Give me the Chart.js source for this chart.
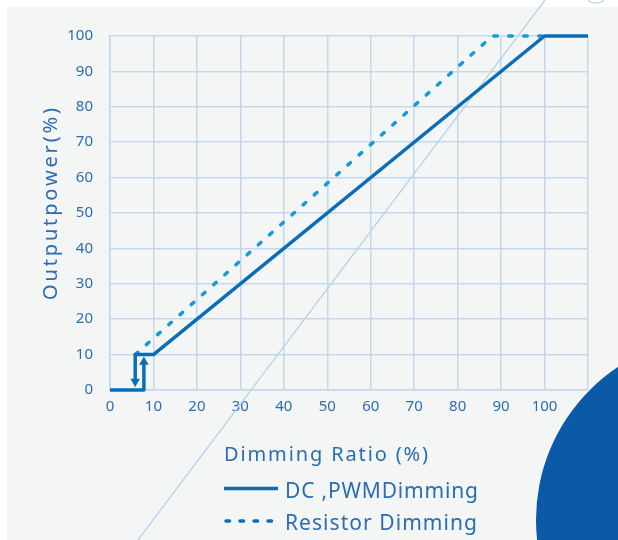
<!DOCTYPE html>
<html>
<head>
<meta charset="utf-8">
<script src="https://cdn.jsdelivr.net/npm/chart.js@4.4.0/dist/chart.umd.min.js"></script>
<style>
html, body { margin: 0; padding: 0; background: #fff; }
#wrap { width: 618px; height: 540px; position: relative; }
</style>
</head>
<body>
<div id="wrap"><canvas id="graf"></canvas></div>
<script>
// dimming ratio (%) on x, output power (%) on y
var xMax = 110;
var yMax = 100;
var tickStep = 10;
var xLabelMax = 100;

var dcPwmDimming = [[0, 0], [7.8, 0], [7.8, 7.6], null, [5.8, 2.6], [5.8, 10], [10, 10], [100, 100], [110, 100]];
var resistorDimming = [[5.8, 10], [88, 100], [100, 100]];
var arrowUp = [[7.8, 7.9]];
var arrowDown = [[5.8, 2.4]];

var seriesNames = ['DC ,PWMDimming', 'Resistor Dimming'];
var xTitle = 'Dimming Ratio (%)';
var yTitle = 'Outputpower(%)';

var textColor = '#2b6cb4';
var solidColor = '#0b6db8';
var dashColor = '#1799d8';
var gridColor = '#c3d8eb';

function toPoints(list) {
    return list.map(function (p) {
        return p ? { x: p[0], y: p[1] } : { x: 6.8, y: null };
    });
}

// spread the letters so a text fills the given width
function spacedText(ctx, text, x, y, width) {
    ctx.letterSpacing = '0px';
    var w = ctx.measureText(text).width;
    var gap = (width - w) / (text.length - 1);
    ctx.letterSpacing = gap.toFixed(2) + 'px';
    ctx.fillText(text, x, y);
    ctx.letterSpacing = '0px';
}

var extras = {
    id: 'extras',
    beforeDraw: function (chart) {
        var ctx = chart.ctx;
        ctx.save();
        ctx.fillStyle = '#ffffff';
        ctx.fillRect(0, 0, chart.width, chart.height);
        ctx.fillStyle = '#f4f6f6';
        ctx.fillRect(7, 7, chart.width - 7, chart.height - 7);
        // big blue disc, bottom right
        ctx.fillStyle = '#0a5aa8';
        ctx.beginPath();
        ctx.arc(720, 520, 184, 0, Math.PI * 2);
        ctx.fill();
        // small curl at the top right
        ctx.strokeStyle = '#b9d3ea';
        ctx.lineWidth = 1.2;
        ctx.beginPath();
        ctx.ellipse(596, -3, 9, 6, 0, 0.2, Math.PI * 0.9);
        ctx.stroke();
        ctx.restore();
    },
    beforeDatasetsDraw: function (chart) {
        var ctx = chart.ctx;
        ctx.save();
        ctx.strokeStyle = '#b9d3ea';
        ctx.lineWidth = 1.3;
        ctx.beginPath();
        ctx.moveTo(138, 540);
        ctx.lineTo(545, 0);
        ctx.stroke();
        ctx.restore();
    },
    afterDraw: function (chart) {
        var ctx = chart.ctx;
        ctx.save();
        ctx.fillStyle = textColor;
        ctx.textBaseline = 'alphabetic';
        ctx.textAlign = 'left';

        // y title, reads bottom to top
        ctx.save();
        ctx.translate(57, 300);
        ctx.rotate(-Math.PI / 2);
        ctx.font = '20px "Noto Sans"';
        spacedText(ctx, yTitle, 0, 0, 192);
        ctx.restore();

        // x title
        ctx.font = '20px "Noto Sans"';
        spacedText(ctx, xTitle, 224, 461, 204);

        // legend
        var lineY = [488.5, 521];
        var textY = [497.5, 529.5];
        var widths = [193, 192];
        chart.data.datasets.forEach(function (ds, i) {
            if (!ds.label) return;
            ctx.strokeStyle = solidColor;
            ctx.lineWidth = 3.5;
            if (ds.borderDash) {
                ctx.setLineDash([3.5, 10.5]);
                ctx.lineCap = 'round';
            } else {
                ctx.setLineDash([]);
                ctx.lineCap = 'butt';
            }
            ctx.beginPath();
            ctx.moveTo(ds.borderDash ? 226 : 224, lineY[i]);
            ctx.lineTo(ds.borderDash ? 276 : 278, lineY[i]);
            ctx.stroke();
            ctx.setLineDash([]);
            ctx.font = '21px "Noto Sans"';
            spacedText(ctx, ds.label, 285, textY[i], widths[i]);
        });
        ctx.restore();
    }
};

var graf = new Chart(document.getElementById('graf'), {
    type: 'scatter',
    data: {
        datasets: [{
            label: seriesNames[0],
            data: toPoints(dcPwmDimming),
            showLine: true,
            spanGaps: false,
            borderColor: solidColor,
            borderWidth: 3.5,
            pointRadius: 0,
            borderJoinStyle: 'round',
            clip: 6
        }, {
            label: seriesNames[1],
            data: toPoints(resistorDimming),
            showLine: true,
            borderColor: dashColor,
            borderWidth: 3.5,
            borderDash: [3.5, 11.5],
            borderCapStyle: 'round',
            pointRadius: 0,
            clip: 6
        }, {
            data: toPoints(arrowUp),
            pointStyle: 'triangle',
            pointRadius: 4,
            rotation: 0,
            backgroundColor: solidColor,
            borderColor: solidColor,
            borderWidth: 1.5
        }, {
            data: toPoints(arrowDown),
            pointStyle: 'triangle',
            pointRadius: 4,
            rotation: 180,
            backgroundColor: solidColor,
            borderColor: solidColor,
            borderWidth: 1.5
        }]
    },
    options: {
        responsive: true,
        maintainAspectRatio: false,
        animation: false,
        layout: { padding: { left: 0, right: 30, top: 36, bottom: 0 } },
        plugins: {
            legend: { display: false },
            tooltip: { enabled: false }
        },
        scales: {
            x: {
                type: 'linear',
                min: 0,
                max: xMax,
                afterFit: function (scale) { scale.height = 150; },
                ticks: {
                    stepSize: tickStep,
                    padding: 8,
                    color: textColor,
                    font: { family: 'Noto Sans', size: 15 },
                    maxRotation: 0,
                    callback: function (v) { return v > xLabelMax ? '' : v; }
                },
                grid: { color: gridColor, lineWidth: 1.5, drawTicks: false },
                border: { color: gridColor, width: 1.5 }
            },
            y: {
                type: 'linear',
                min: 0,
                max: yMax,
                afterFit: function (scale) { scale.width = 110; },
                ticks: {
                    stepSize: tickStep,
                    padding: 17,
                    color: textColor,
                    font: { family: 'Noto Sans', size: 15 }
                },
                grid: { color: gridColor, lineWidth: 1.5, drawTicks: false },
                border: { color: gridColor, width: 1.5 }
            }
        }
    },
    plugins: [extras]
});
</script>
</body>
</html>
